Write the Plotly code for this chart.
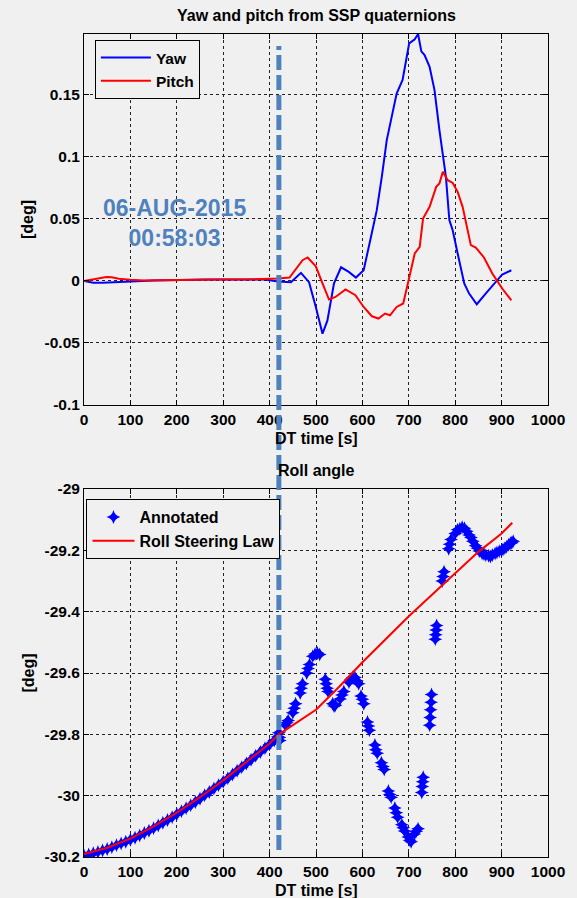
import plotly.graph_objects as go

# ---------------- data: top panel (Yaw / Pitch) ----------------
yaw_t = [0, 10, 20, 40, 60, 80, 100, 120, 150, 180, 200, 230, 260, 300, 330, 360, 390, 418,
         430, 446, 467.6, 485, 499.6, 514, 524.5, 538.8, 554, 570.7, 586, 602.7, 616.9, 631,
         641.8, 652.5, 663, 673.8, 686.6, 700.8, 712.8, 720, 727, 734, 744.8, 755.4, 766,
         773.3, 780, 787.4, 794.6, 805.3, 819.5, 830, 846.5, 865.7, 887, 901.3, 921]
yaw_v = [0.0, -0.001, -0.0015, -0.0015, -0.0012, -0.0005, 0.0, 0.0002, 0.0003, 0.0005, 0.0008,
         0.001, 0.0012, 0.0012, 0.0013, 0.0012, 0.0012, -0.0005,
         -0.0008, -0.001, 0.0065, -0.001, -0.021, -0.0425, -0.032, -0.002, 0.011, 0.0073,
         0.0027, 0.0086, 0.0328, 0.057, 0.0839, 0.1135, 0.132, 0.151, 0.162, 0.1914, 0.1947,
         0.199, 0.185, 0.182, 0.1726, 0.1538, 0.1215, 0.1027, 0.0839, 0.049, 0.0409, 0.0221,
         -0.0021, -0.0102, -0.0188, -0.0102, -0.0008, 0.0052, 0.0086]

pitch_t = [0, 15, 27, 48, 60, 75, 100, 130, 160, 200, 250, 300, 350, 400, 418, 443, 457, 471,
           482, 499.6, 514, 528, 542, 563.6, 585, 602.7, 620.5, 634.7, 648.8, 659.5, 673.8, 688,
           698.7, 712.8, 723.5, 730.7, 744.8, 759, 766, 773.3, 784, 794.7, 805.3, 816, 833.7,
           844.3, 862, 880, 901.3, 921]
pitch_v = [0.0, 0.001, 0.002, 0.0032, 0.003, 0.0018, 0.001, 0.0003, 0.0005, 0.0008, 0.001,
           0.0012, 0.0012, 0.0015, 0.002, 0.0027, 0.010, 0.0167, 0.0189, 0.0118, -0.002, -0.015,
           -0.0129, -0.0069, -0.0115, -0.021, -0.0285, -0.0303, -0.0263, -0.0277, -0.021, -0.0182,
           -0.0008, 0.0221, 0.0274, 0.0503, 0.0597, 0.0758, 0.0785, 0.0879, 0.0812, 0.079, 0.0718,
           0.0597, 0.0288, 0.0269, 0.0189, 0.006, -0.0061, -0.0156]

# ---------------- data: bottom panel (Roll) ----------------
law_t = [0, 50, 100, 150, 200, 250, 300, 350, 400, 420, 460, 500, 550, 600, 650, 700, 750,
         800, 850, 900, 923]
law_v = [-30.19, -30.17, -30.14, -30.10, -30.055, -30.005, -29.95, -29.89, -29.83, -29.80,
         -29.76, -29.72, -29.645, -29.565, -29.49, -29.415, -29.345, -29.275, -29.205, -29.145,
         -29.11]

ann_t = [0, 10, 20, 30, 40, 50, 60, 70, 80, 90, 100, 110, 120, 130, 140, 150, 160, 170, 180,
         190, 200, 210, 220, 230, 240, 250, 260, 270, 280, 290, 300, 310, 320, 330, 340, 350,
         360, 370, 380, 390, 400, 410, 418,
         420, 421, 422, 434, 437, 440, 450, 453, 456, 466, 468, 471, 480, 483, 486,
         493, 498, 503, 508, 520, 522, 524, 526, 536, 539, 542, 552, 556, 560,
         571, 575, 579, 584, 588, 592, 597, 600, 603, 611, 613, 615, 627, 629, 632,
         641, 644, 647, 656, 659, 662, 670, 673, 676, 685, 688, 691, 699, 702, 705,
         712, 716, 720, 728, 729, 730, 731, 745, 746, 747, 748, 749, 757, 758, 759, 760,
         772, 774, 776, 786, 788, 791, 800, 805, 810, 815, 820, 825, 830, 834, 838,
         844, 848, 852, 858, 862, 866, 872, 876, 880, 886, 890, 895, 900, 903, 907,
         911, 915, 919, 922, 925]
ann_v = [-30.195, -30.192, -30.188, -30.184, -30.179, -30.174, -30.168, -30.162, -30.156,
         -30.150, -30.144, -30.137, -30.130, -30.122, -30.114, -30.106, -30.097, -30.088,
         -30.079, -30.070, -30.060, -30.051, -30.041, -30.031, -30.021, -30.010, -29.999,
         -29.988, -29.977, -29.966, -29.955, -29.943, -29.931, -29.919, -29.907, -29.895,
         -29.883, -29.870, -29.858, -29.845, -29.833, -29.820, -29.808,
         -29.795, -29.81, -29.82, -29.77, -29.762, -29.755, -29.73, -29.715, -29.70,
         -29.665, -29.65, -29.635, -29.60, -29.585, -29.572,
         -29.545, -29.538, -29.535, -29.54, -29.62, -29.635, -29.65, -29.66,
         -29.70, -29.708, -29.705, -29.685, -29.672, -29.66,
         -29.63, -29.62, -29.615, -29.615, -29.625, -29.635, -29.675, -29.686, -29.70,
         -29.76, -29.773, -29.787, -29.835, -29.85, -29.862,
         -29.893, -29.905, -29.915, -29.985, -29.996, -30.005, -30.04, -30.056, -30.07,
         -30.095, -30.105, -30.115, -30.135, -30.145, -30.15,
         -30.125, -30.116, -30.108, -29.99, -29.97, -29.955, -29.94,
         -29.77, -29.745, -29.72, -29.695, -29.67, -29.49, -29.475, -29.46, -29.445,
         -29.30, -29.285, -29.27, -29.195, -29.18, -29.165, -29.145, -29.133, -29.13,
         -29.125, -29.128, -29.138, -29.15, -29.158, -29.17,
         -29.185, -29.193, -29.202, -29.21, -29.212, -29.216, -29.218, -29.22, -29.215,
         -29.21, -29.207, -29.203, -29.2, -29.197, -29.193,
         -29.188, -29.182, -29.177, -29.175, -29.17]

x_ticks = [0, 100, 200, 300, 400, 500, 600, 700, 800, 900, 1000]
x_tick_text = ["0", "100", "200", "300", "400", "500", "600", "700", "800", "900", "1000"]
top_y_ticks = [-0.1, -0.05, 0, 0.05, 0.1, 0.15]
top_y_text = ["-0.1", "-0.05", "0", "0.05", "0.1", "0.15"]
bot_y_ticks = [-30.2, -30.0, -29.8, -29.6, -29.4, -29.2, -29.0]
bot_y_text = ["-30.2", "-30", "-29.8", "-29.6", "-29.4", "-29.2", "-29"]

event_time = 420
event_text = "06-AUG-2015<br>00:58:03"

# ---------------- figure ----------------
BG = "#F0F0F0"
FONT = "Arial, Liberation Sans, sans-serif"
STEEL = "#4F81BD"

fig = go.Figure()

fig.add_trace(go.Scatter(x=yaw_t, y=yaw_v, mode="lines", name="Yaw",
                         line=dict(color="#0000FF", width=2), xaxis="x", yaxis="y",
                         legend="legend"))
fig.add_trace(go.Scatter(x=pitch_t, y=pitch_v, mode="lines", name="Pitch",
                         line=dict(color="#FF0000", width=2), xaxis="x", yaxis="y",
                         legend="legend"))
fig.add_trace(go.Scatter(x=ann_t, y=ann_v, mode="markers", name="Annotated",
                         marker=dict(symbol="star-diamond", size=10, color="#0000FF",
                                     line=dict(width=0)),
                         xaxis="x2", yaxis="y2", legend="legend2"))
fig.add_trace(go.Scatter(x=law_t, y=law_v, mode="lines", name="Roll Steering Law",
                         line=dict(color="#FF0000", width=2), xaxis="x2", yaxis="y2",
                         legend="legend2"))

axis_common = dict(showline=True, linecolor="#000000", linewidth=1, mirror="ticks",
                   ticks="inside", ticklen=5, tickcolor="#000000",
                   showgrid=True, gridcolor="#222222", gridwidth=1, griddash="3px,3px",
                   zeroline=False,
                   tickfont=dict(family=FONT, size=15.5, color="#000000", weight="bold"))

top_dom = [(857 - 405) / 823, 1.0]
bot_dom = [0.0, (857 - 489) / 823]

fig.update_layout(
    width=577, height=898,
    margin=dict(l=84, r=24, t=34, b=41),
    paper_bgcolor=BG, plot_bgcolor=BG,
    font=dict(family=FONT, size=15, color="#000000"),
    xaxis=dict(domain=[0, 1], range=[0, 1000], tickvals=x_ticks, ticktext=x_tick_text,
               anchor="y", **axis_common),
    yaxis=dict(domain=top_dom, range=[-0.1, 0.199], tickvals=top_y_ticks,
               ticktext=top_y_text, anchor="x", **axis_common),
    xaxis2=dict(domain=[0, 1], range=[0, 1000], tickvals=x_ticks, ticktext=x_tick_text,
                anchor="y2", **axis_common),
    yaxis2=dict(domain=bot_dom, range=[-30.2, -29.0], tickvals=bot_y_ticks,
                ticktext=bot_y_text, anchor="x2", **axis_common),
    legend=dict(x=(95 - 84) / 469, y=(857 - 40) / 823, xanchor="left", yanchor="top",
                bgcolor=BG, bordercolor="#000000", borderwidth=1, itemwidth=50,
                font=dict(family=FONT, size=15.5, color="#000000", weight="bold")),
    legend2=dict(x=(86.5 - 84) / 469, y=(857 - 499) / 823, xanchor="left", yanchor="top",
                 bgcolor=BG, bordercolor="#000000", borderwidth=1, itemwidth=42,
                 font=dict(family=FONT, size=16, color="#000000", weight="bold")),
    showlegend=True,
)

def paper_y(Y):
    return (857 - Y) / 823

def paper_x(X):
    return (X - 84) / 469

txt = dict(family=FONT, size=16, color="#000000", weight="bold")
annots = [
    dict(text="Yaw and pitch from SSP quaternions", x=0.5, y=paper_y(15)),
    dict(text="DT time [s]", x=0.5, y=paper_y(438)),
    dict(text="Roll angle", x=0.5, y=paper_y(470)),
    dict(text="DT time [s]", x=0.5, y=paper_y(890)),
]
for a in annots:
    fig.add_annotation(xref="paper", yref="paper", xanchor="center", yanchor="middle",
                       showarrow=False, font=txt, **a)
for Yc in [219.5, 673]:
    fig.add_annotation(text="[deg]", xref="paper", yref="paper", x=paper_x(27), y=paper_y(Yc),
                       xanchor="center", yanchor="middle", textangle=-90, showarrow=False,
                       font=txt)

fig.add_annotation(text=event_text, xref="x", yref="y", x=196, y=0.047,
                   xanchor="center", yanchor="middle", showarrow=False,
                   font=dict(family=FONT, size=23, color=STEEL, weight="bold"))

fig.add_shape(type="line", xref="x", yref="paper", x0=event_time, x1=event_time,
              y0=paper_y(850), y1=paper_y(46), layer="above",
              line=dict(color=STEEL, width=5, dash="15px,5px"))

fig.write_html("out.html")
